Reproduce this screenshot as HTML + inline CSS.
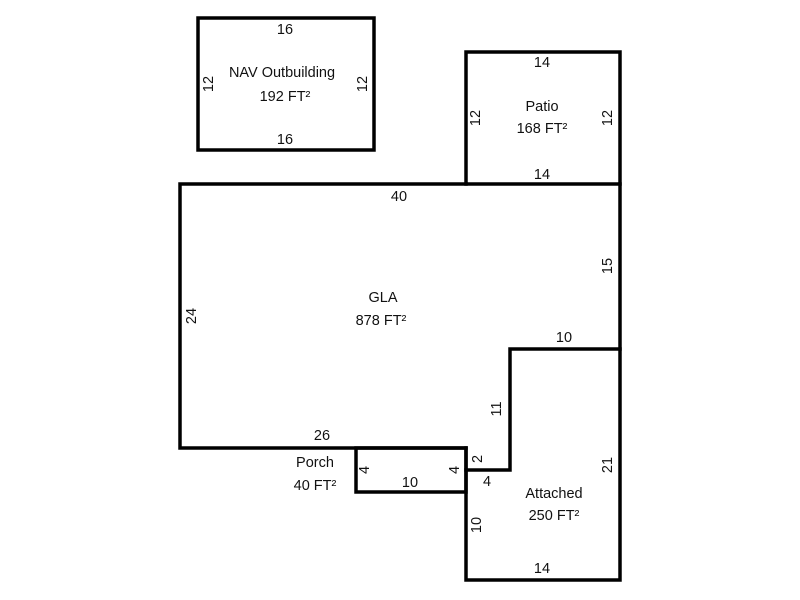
<!DOCTYPE html>
<html><head><style>html,body{margin:0;padding:0;background:#fff}svg{display:block}text{font-family:"Liberation Sans",Arial,sans-serif;font-size:14.5px;fill:#111}</style></head>
<body>
<svg width="800" height="600" xmlns="http://www.w3.org/2000/svg">
<g fill="none" stroke="#000" stroke-width="3.5" stroke-linecap="square">
<rect x="198" y="18" width="176" height="132"/>
<rect x="466" y="52" width="154" height="132"/>
<polyline points="466,184 180,184 180,448 466,448"/>
<rect x="356" y="448" width="110" height="44"/>
<polyline points="620,184 620,580 466,580 466,448"/>
<polyline points="620,349 510,349 510,470 466,470"/>
</g>
<g text-anchor="middle">
<text x="285" y="34">16</text>
<text x="285" y="144">16</text>
<text x="282" y="77">NAV Outbuilding</text>
<text x="285" y="101">192 FT²</text>
<text x="542" y="67">14</text>
<text x="542" y="179">14</text>
<text x="542" y="111">Patio</text>
<text x="542" y="133">168 FT²</text>
<text x="399" y="201">40</text>
<text x="383" y="302">GLA</text>
<text x="381" y="325">878 FT²</text>
<text x="322" y="440">26</text>
<text x="315" y="467">Porch</text>
<text x="315" y="490">40 FT²</text>
<text x="410" y="487">10</text>
<text x="487" y="486">4</text>
<text x="564" y="342">10</text>
<text x="554" y="498">Attached</text>
<text x="554" y="520">250 FT²</text>
<text x="542" y="573">14</text>
<text transform="translate(213,84) rotate(-90)">12</text>
<text transform="translate(367,84) rotate(-90)">12</text>
<text transform="translate(480,118) rotate(-90)">12</text>
<text transform="translate(612,118) rotate(-90)">12</text>
<text transform="translate(612,266) rotate(-90)">15</text>
<text transform="translate(196,316) rotate(-90)">24</text>
<text transform="translate(501,409) rotate(-90)">11</text>
<text transform="translate(369,470) rotate(-90)">4</text>
<text transform="translate(459,470) rotate(-90)">4</text>
<text transform="translate(482,459) rotate(-90)">2</text>
<text transform="translate(612,465) rotate(-90)">21</text>
<text transform="translate(481,525) rotate(-90)">10</text>
</g>
</svg>
</body></html>
